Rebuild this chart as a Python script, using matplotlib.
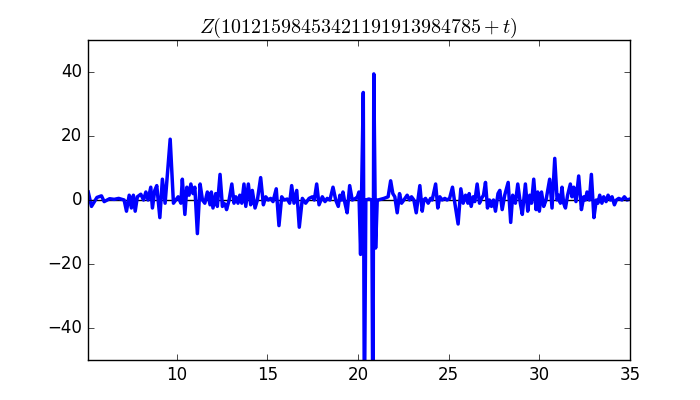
import numpy as np
import matplotlib
matplotlib.use('Agg')
import matplotlib.pyplot as plt

plt.style.use('classic')

# Values of Z (t, Z)
t = [5.12, 5.30, 5.60, 5.85, 6.00, 6.30, 6.55, 6.80, 7.10, 7.23, 7.38, 7.50, 7.61, 7.71,
     7.83, 8.02, 8.17, 8.30, 8.42, 8.57, 8.66, 8.79, 8.90, 9.07, 9.21, 9.36, 9.64, 9.82,
     9.95, 10.08, 10.23, 10.31, 10.45, 10.56, 10.68, 10.78, 10.90, 11.00, 11.14, 11.29,
     11.42, 11.55, 11.69, 11.84, 11.91, 12.00, 12.15, 12.24, 12.39, 12.52, 12.60, 12.68,
     12.75, 12.89, 13.04, 13.16, 13.26, 13.38, 13.48, 13.59, 13.71, 13.81, 13.95, 14.08,
     14.17, 14.32, 14.45, 14.63, 14.78, 14.91, 15.05, 15.18, 15.31, 15.49, 15.64, 15.79,
     15.92, 16.10, 16.23, 16.34, 16.47, 16.62, 16.76, 16.93, 17.11, 17.30, 17.48, 17.59,
     17.72, 17.85, 18.03, 18.18, 18.30, 18.45, 18.62, 18.77, 18.91, 19.00, 19.10, 19.17,
     19.28, 19.40, 19.54, 19.68, 19.87, 19.97, 20.05, 20.14, 20.29, 20.35, 20.43, 20.60,
     20.76, 20.82, 20.87, 20.97, 21.06, 21.11, 21.43, 21.66, 21.80, 21.92, 22.03, 22.16,
     22.29, 22.40, 22.53, 22.71, 22.84, 22.95, 23.08, 23.21, 23.41, 23.54, 23.63, 23.72,
     23.87, 24.00, 24.09, 24.28, 24.40, 24.51, 24.64, 24.79, 24.91, 25.05, 25.21, 25.34,
     25.52, 25.67, 25.80, 25.93, 26.06, 26.13, 26.24, 26.35, 26.44, 26.57, 26.70, 26.81,
     26.92, 27.03, 27.14, 27.25, 27.36, 27.47, 27.58, 27.72, 27.82, 27.95, 28.09, 28.28,
     28.42, 28.53, 28.68, 28.81, 28.95, 29.06, 29.23, 29.36, 29.47, 29.57, 29.69, 29.82,
     29.91, 30.00, 30.12, 30.24, 30.37, 30.57, 30.70, 30.85, 30.98, 31.07, 31.16, 31.25,
     31.34, 31.44, 31.56, 31.71, 31.80, 31.90, 32.02, 32.17, 32.32, 32.45, 32.54, 32.63,
     32.76, 32.87, 33.01, 33.14, 33.23, 33.33, 33.45, 33.55, 33.68, 33.79, 33.92, 34.01,
     34.14, 34.25, 34.38, 34.56, 34.69, 34.83, 35.00]
z = [2.5, -2.0, 0.8, 1.3, -0.5, 0.4, 0.2, 0.5, 0.0, -3.5, 1.5, -2.5, 1.5, -3.5,
     1.0, 1.8, 0.0, 2.5, 0.0, 4.0, -2.5, 3.0, 4.5, -5.5, 6.5, -1.0, 19.0, -1.0,
     0.0, 1.0, -1.0, 6.5, -4.5, 4.0, 1.5, 5.0, 2.0, 4.0, -10.5, 5.0,
     0.0, -1.0, 2.5, -1.5, 2.5, -2.5, 2.0, -2.0, 8.0, -2.0, -1.0, -1.5,
     -3.0, 0.0, 5.0, -1.0, 1.0, -1.0, 1.5, -1.0, 5.0, -2.0, 5.0, -1.5,
     3.0, -2.5, 0.0, 7.0, -1.5, 1.0, 0.0, 0.5, -0.5, 3.5, -8.0, 1.0,
     0.0, 0.3, -1.0, 4.5, -1.0, 3.0, -8.5, 0.5, -1.0, 0.5, 1.0, 0.0,
     5.0, -1.5, 1.0, -0.5, 0.5, 0.0, 4.0, 0.0, -2.0, 1.5, 0.0, 2.5,
     -1.0, -4.0, 4.5, 0.0, 0.5, 1.0, 2.5, -17.0, 33.6, -70.0, 0.0, 0.3,
     0.0, -75.0, 39.4, -15.0, 0.0, 0.0, 0.5, 1.0, 6.0, 2.0, 1.0, -4.0,
     2.0, -1.0, 0.0, 1.5, 0.0, 1.0, 0.0, -4.0, 4.5, -3.5, 0.0, 0.5,
     -1.0, 0.5, 0.0, 5.0, -2.5, 1.0, 0.0, 0.5, 0.0, 0.5, 4.0, -1.0,
     -7.5, 3.5, -1.0, 1.5, -1.0, 2.0, -2.0, 1.0, -0.5, 5.0, -1.0, 0.5,
     1.5, 5.5, -2.5, 0.0, -2.0, 0.0, -3.5, 2.0, 3.0, -3.0, 1.5, 5.5,
     -7.0, 1.5, -1.0, 5.0, -1.0, -4.5, 5.0, -3.5, 1.5, -1.0, 6.5, -3.0,
     2.5, -3.5, 2.5, -2.0, 0.0, 6.5, -2.5, 13.0, 0.0, 1.5, -1.0, 4.0,
     -1.0, -2.5, 1.5, 5.0, 1.0, 4.0, -0.5, 7.5, -3.0, 1.0, 0.0, 2.5,
     0.0, 8.0, -5.5, 0.0, -1.0, 1.5, -1.0, 1.0, -0.5, 1.5, 0.0, 1.0,
     -1.5, 0.0, 0.5, 0.0, 1.0, 0.0, 0.3]

fig = plt.figure(figsize=(7, 4), dpi=100, facecolor='white')
ax = fig.add_subplot(111)

ax.axhline(0, color='black', linewidth=1)
ax.plot(t, z, color='blue', linewidth=2.5)

ax.set_xlim(5.08, 35)
ax.set_ylim(-50, 50)
ax.set_xticks([10, 15, 20, 25, 30, 35])
ax.set_yticks([-40, -20, 0, 20, 40])
ax.set_title(r'$Z(10121598453421191913984785+t)$')

fig.savefig('out.png', dpi=100, facecolor='white')
